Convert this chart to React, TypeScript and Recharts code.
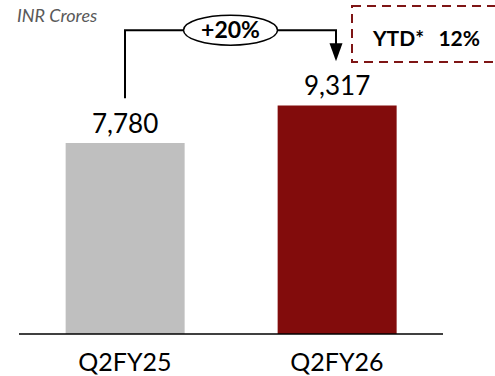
import React from "react";
import { BarChart, Bar, XAxis, YAxis, Cell, LabelList, ReferenceLine } from "recharts";

const categories = ["Q2FY25", "Q2FY26"];
const revenue = [7780, 9317];
const barColors = ["#bfbfbf", "#820c0c"];
const growthLabel = "+20%";
const ytdLabel = "YTD*";
const ytdValue = "12%";
const unitLabel = "INR Crores";

const data = categories.map((c, i) => ({ name: c, value: revenue[i] }));

const FONT = "Lato, 'Open Sans', sans-serif";
const CONNECTOR_LEVEL = 12383;

const fmt = (v: number) => v.toLocaleString("en-US");

const Connector = (props: any) => {
  const { x1, y1, x2 } = props;
  const ax = x2 - 1;
  const cx = (x1 + ax) / 2;
  return (
    <g>
      <text x={17} y={22} fontFamily={FONT} fontStyle="italic" fontSize={18} fill="#595959">
        {unitLabel}
      </text>
      <line x1={x1} y1={y1 + 68} x2={x1} y2={y1} stroke="#000" strokeWidth={2} />
      <line x1={x1 - 1} y1={y1} x2={ax + 1} y2={y1} stroke="#000" strokeWidth={2} />
      <line x1={ax} y1={y1} x2={ax} y2={y1 + 14} stroke="#000" strokeWidth={2} />
      <polygon points={`${ax - 6.5},${y1 + 13} ${ax + 6.5},${y1 + 13} ${ax},${y1 + 31}`} fill="#000" />
      <ellipse cx={cx} cy={y1} rx={47} ry={15} fill="#fff" stroke="#000" strokeWidth={1.5} />
      <text x={cx} y={y1 + 8} textAnchor="middle" fontFamily={FONT} fontWeight="bold" fontSize={23} fill="#000">
        {growthLabel}
      </text>
      <rect x={ax + 16} y={6} width={200} height={56} fill="none" stroke="#7f1515" strokeWidth={2} strokeDasharray="9 6" />
      <text x={ax + 37} y={46} fontFamily={FONT} fontWeight="bold" fontSize={21} fill="#000">
        {ytdLabel}
      </text>
      <text x={ax + 144} y={46} textAnchor="end" fontFamily={FONT} fontWeight="bold" fontSize={21} fill="#000">
        {ytdValue}
      </text>
    </g>
  );
};

export default function App() {
  return (
    <div style={{ position: "absolute", left: 0, top: 0, background: "#fff" }}>
      <BarChart
        width={495}
        height={376}
        data={data}
        margin={{ top: 15, right: 52, bottom: 0, left: 19 }}
        barCategoryGap="22%"
      >
        <XAxis
          dataKey="name"
          height={42}
          tickLine={false}
          tickMargin={13}
          axisLine={{ stroke: "#000", strokeWidth: 1.5 }}
          tick={{ fill: "#000", fontSize: 25, fontFamily: FONT }}
        />
        <YAxis hide domain={[0, 13000]} />
        <Bar dataKey="value" isAnimationActive={false}>
          {data.map((d, i) => (
            <Cell key={d.name} fill={barColors[i]} />
          ))}
          <LabelList
            dataKey="value"
            position="top"
            offset={10}
            formatter={(v: any) => fmt(Number(v))}
            style={{ fill: "#000", fontSize: 26, fontFamily: FONT }}
          />
        </Bar>
        <ReferenceLine
          segment={[
            { x: categories[0], y: CONNECTOR_LEVEL },
            { x: categories[1], y: CONNECTOR_LEVEL },
          ]}
          shape={Connector}
        />
      </BarChart>
    </div>
  );
}
